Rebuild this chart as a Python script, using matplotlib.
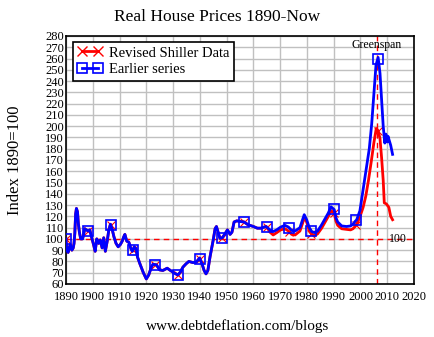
import numpy as np
import matplotlib
matplotlib.use("Agg")
import matplotlib.pyplot as plt

plt.rcParams['font.family'] = ['Liberation Serif', 'DejaVu Serif']

# Earlier series of real house prices (index, 1890 = 100)
earlier_years = [
    1890.0, 1890.3, 1890.8, 1891.3, 1891.6, 1892.2, 1892.7, 1893.0, 1893.3, 1893.6,
    1893.9, 1894.3, 1894.6, 1895.0, 1895.5, 1896.2, 1896.6, 1897.0, 1897.6, 1898.3,
    1898.9, 1899.5, 1900.3, 1900.9, 1901.5, 1902.2, 1902.8, 1903.5, 1904.1, 1904.7,
    1905.4, 1906.0, 1906.6, 1907.2, 1907.9, 1908.7, 1909.5, 1910.3, 1911.0, 1911.6,
    1912.0, 1912.7, 1913.5, 1914.3, 1914.8, 1915.5, 1916.2, 1916.7, 1917.6, 1918.9,
    1920.0, 1920.9, 1921.9, 1922.5, 1923.8, 1925.0, 1926.2, 1927.8, 1929.0, 1930.6,
    1931.8, 1932.7, 1933.7, 1934.9, 1935.9, 1937.4, 1938.7, 1939.9, 1940.8, 1941.6,
    1942.3, 1943.0, 1943.8, 1945.0, 1945.7, 1946.2, 1946.8, 1947.5, 1948.4, 1949.4,
    1950.3, 1951.3, 1952.0, 1952.8, 1953.8, 1955.0, 1956.5, 1958.1, 1960.0, 1961.5,
    1962.8, 1964.7, 1966.2, 1967.4, 1968.7, 1970.2, 1971.8, 1973.1, 1974.3, 1975.6,
    1977.4, 1978.4, 1979.0, 1979.9, 1980.9, 1981.8, 1983.0, 1984.0, 1985.5, 1986.8,
    1988.0, 1989.0, 1990.2, 1990.8, 1991.5, 1993.0, 1994.8, 1996.3, 1997.2, 1998.0,
    1998.6, 1999.8, 2001.0, 2002.3, 2003.3, 2004.2, 2005.1, 2005.8, 2006.6, 2007.3,
    2007.9, 2008.5, 2009.1, 2009.5, 2010.0, 2010.3, 2011.3, 2012.0,
]
earlier_values = [
    100, 90, 88, 93, 95, 90, 92, 96, 105, 122,
    127, 124, 114, 106, 100, 100, 104, 109, 108, 107,
    108, 102, 95, 89, 100, 96, 99, 92, 101, 89,
    98, 108, 113, 109, 102, 96, 93, 95, 98, 102,
    104, 98, 97, 91, 89, 93, 91, 84, 78, 70,
    64.5, 68, 75, 77.5, 77, 72.5, 72, 74, 72, 69.5,
    68, 70.5, 75, 78, 80, 79, 79.5, 83, 78, 72,
    69, 72, 84, 99, 109, 111, 106, 100.5, 101, 104.5,
    108, 104, 106, 115, 116, 115.5, 115, 112.5, 111, 109.5,
    109.5, 111, 108, 106.5, 108, 110.5, 112, 110.5, 107.5, 107,
    110, 117, 121.5, 117, 110, 106.5, 105.5, 107, 112.5, 118,
    123, 128.5, 126, 119, 115, 111.5, 111, 111.5, 113, 115.5,
    117, 125, 144, 165, 180, 202, 232, 254, 261, 247,
    223, 200, 185, 193, 186, 191, 183, 175,
]

# Revised Shiller data: identical to the earlier series up to 1965, then:
revised_late_years = [
    1965.0, 1966.2, 1967.4, 1968.7, 1970.2, 1971.8, 1973.1, 1974.3, 1975.6, 1977.4,
    1978.4, 1979.0, 1979.9, 1980.9, 1981.8, 1983.0, 1984.0, 1985.5, 1986.8, 1988.0,
    1989.0, 1990.2, 1990.8, 1991.5, 1993.0, 1994.8, 1996.3, 1997.2, 1998.0, 1999.0,
    2000.0, 2001.0, 2002.0, 2003.0, 2004.0, 2005.0, 2005.9, 2006.6, 2007.3, 2007.9,
    2008.5, 2008.9, 2009.7, 2010.6, 2011.3, 2012.0,
]
revised_late_values = [
    110.5, 106, 103.5, 105.5, 108, 109, 107, 104, 103.5, 107,
    114, 119, 115, 107, 104, 103, 104.5, 109.5, 115, 120,
    125, 123, 116, 112, 109, 108.5, 108, 109, 111, 115,
    121, 128, 138, 152, 168, 185, 198, 196, 189, 172,
    152, 132, 131, 128, 120, 117,
]

x_ticks = list(range(1890, 2021, 10))
y_ticks = list(range(60, 281, 10))
greenspan_year = 2006
base_level = 100

ey = np.array(earlier_years)
ev = np.array(earlier_values)
cut = ey < revised_late_years[0]
ry = np.concatenate([ey[cut], revised_late_years])
rv = np.concatenate([ev[cut], revised_late_values])

# markers every 100 months along each series
mark_x = np.arange(1890, 2012.01, 100 / 12)

fig = plt.figure(figsize=(4.35, 3.37), dpi=100)
ax = fig.add_axes([0.1517, 0.1573, 0.8, 0.7359])

ax.set_xlim(1890, 2020)
ax.set_ylim(60, 280)
ax.set_xticks(x_ticks)
ax.set_yticks(y_ticks)
ax.grid(True, color='#c0c0c0', lw=1.0)
ax.set_axisbelow(True)
ax.tick_params(length=0, labelsize=9, colors='black')
ax.tick_params(axis='y', pad=1.5)
ax.tick_params(axis='x', pad=5)

red = '#ff0000'
blue = '#0000ff'

ax.axhline(base_level, color=red, lw=1.0, ls=(0, (4, 3)), zorder=1.5)
ax.axvline(greenspan_year, color=red, lw=1.0, ls=(0, (4, 3)), zorder=1.5)

ax.plot(ry, rv, color=red, lw=2.0, zorder=2)
ax.plot(mark_x, np.interp(mark_x, ry, rv), ls='none', marker='x',
        color=red, ms=6, mew=0.8, zorder=2.5)
ax.plot(ey, ev, color=blue, lw=2.0, zorder=3)
ax.plot(mark_x, np.interp(mark_x, ey, ev), ls='none', marker='s',
        mfc='none', mec=blue, ms=7, mew=1.2, zorder=3.5)

h_red, = ax.plot([], [], color=red, lw=2.0, marker='x', ms=7, mew=1.0,
                 label='Revised Shiller Data')
h_blue, = ax.plot([], [], color=blue, lw=2.0, marker='s', mfc='none',
                  mec=blue, ms=7, mew=1.2, label='Earlier series')
leg = ax.legend(handles=[h_red, h_blue], loc='upper left',
                bbox_to_anchor=(0.02, 0.976), borderaxespad=0,
                fancybox=False, framealpha=1, edgecolor='black',
                fontsize=10.5, numpoints=2, handlelength=1.7,
                handletextpad=0.5, borderpad=0.3, labelspacing=0.25)
leg.get_frame().set_linewidth(1.2)

ax.text(greenspan_year, 272, 'Greenspan', ha='center', va='center',
        fontsize=8.5)
ax.text(2014, base_level, '100', ha='center', va='center', fontsize=8.5)

for s in ax.spines.values():
    s.set_linewidth(1.2)
    s.set_color('black')

fig.text(0.5, 0.95, 'Real House Prices 1890-Now', ha='center', va='center',
         fontsize=12.5)
fig.text(0.035, 0.525, 'Index 1890=100', rotation=90, ha='center',
         va='center', fontsize=12)
fig.text(0.547, 0.033, 'www.debtdeflation.com/blogs', ha='center',
         va='center', fontsize=11)

fig.savefig('out.png', dpi=100)
